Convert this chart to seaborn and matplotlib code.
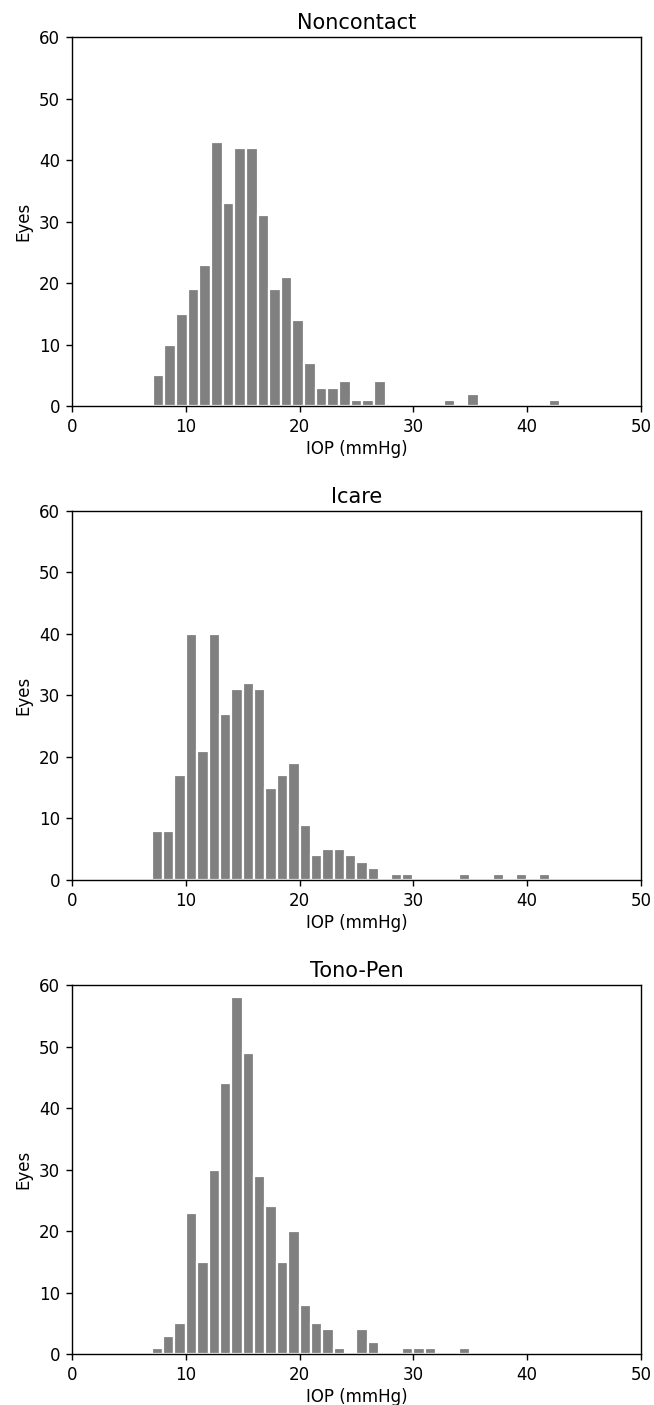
"""IOP histograms for three tonometers (Noncontact, Icare, Tono-Pen)."""
import matplotlib
matplotlib.use("Agg")
import matplotlib.pyplot as plt
import numpy as np
import pandas as pd
import seaborn as sns

# ------------------------------------------------------------
# Data: counts per bin
# ------------------------------------------------------------
noncontact_counts = [5, 10, 15, 19, 23, 43, 33, 42, 42, 31, 19, 21, 14, 7, 3, 3, 4, 1,
                     1, 4, 0, 0, 0, 0, 0, 1, 0, 2, 0, 0, 0, 0, 0, 0, 1]
noncontact_start, noncontact_width = 7.1, 1.023

icare_counts = [8, 8, 17, 40, 21, 40, 27, 31, 32, 31, 15, 17, 19, 9, 4, 5, 5, 4,
                3, 2, 0, 1, 1, 0, 0, 0, 0, 1, 0, 0, 1, 0, 1, 0, 1]
icare_start, icare_width = 7.0, 1.0

tonopen_counts = [1, 3, 5, 23, 15, 30, 44, 58, 49, 29, 24, 15, 20, 8, 5, 4, 1, 0,
                  4, 2, 0, 0, 1, 1, 1, 0, 0, 1]
tonopen_start, tonopen_width = 7.0, 1.0

titles = ["Noncontact", "Icare", "Tono-Pen"]
panels = [
    (noncontact_counts, noncontact_start, noncontact_width),
    (icare_counts, icare_start, icare_width),
    (tonopen_counts, tonopen_start, tonopen_width),
]

sns.set_style("ticks", rc={"axes.edgecolor": "black", "text.color": "black",
                           "axes.labelcolor": "black", "xtick.color": "black",
                           "ytick.color": "black"})
plt.rcParams["font.family"] = ["DejaVu Sans"]

fig = plt.figure(figsize=(6.54, 14.05), dpi=100)
bottoms = [0.7110, 0.3737, 0.0363]

for (counts, start, width), title, bottom in zip(panels, titles, bottoms):
    ax = fig.add_axes([0.1101, bottom, 0.870, 0.2626])
    n = len(counts)
    df = pd.DataFrame({"iop": start + width * (np.arange(n) + 0.5), "n": counts})
    sns.histplot(data=df, x="iop", weights="n", binwidth=width,
                 binrange=(start, start + n * width), color="#808080",
                 alpha=1, edgecolor="white", linewidth=1.6, ax=ax)
    ax.set_xlim(0, 50)
    ax.set_ylim(0, 60)
    ax.set_xticks(np.arange(0, 51, 10))
    ax.set_yticks(np.arange(0, 61, 10))
    ax.set_xlabel("IOP (mmHg)", fontsize=12, labelpad=3)
    ax.set_ylabel("Eyes", fontsize=12, labelpad=5)
    ax.set_title(title, fontsize=15, pad=6)
    ax.tick_params(labelsize=12, length=4.5, width=1.0, pad=4)
    for s in ax.spines.values():
        s.set_linewidth(1.0)

fig.savefig("out.png", dpi=100)
